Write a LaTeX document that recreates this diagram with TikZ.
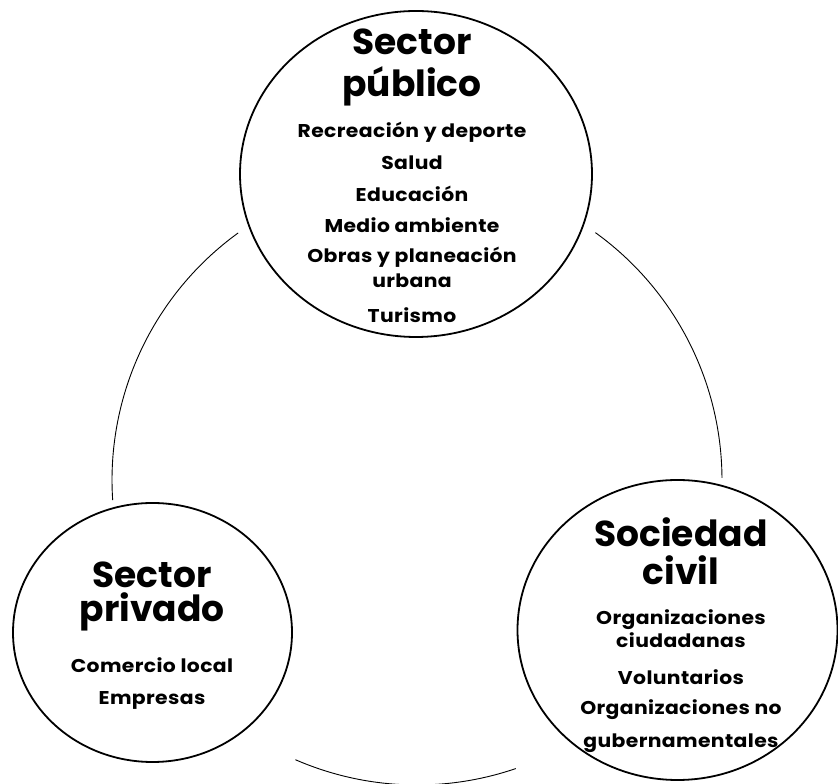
\documentclass[tikz,border=0pt]{standalone}
\usepackage{fontspec}
\setmainfont{Poppins}
\newfontfamily\itemfont{Poppins}[FakeStretch=1.1, LetterSpace=2]
\usetikzlibrary{shapes.geometric}
\tikzset{
  bubble/.style={draw, ellipse, line width=1.8pt, inner sep=0pt},
  ring/.style={line width=0.9pt},
  ttl/.style={anchor=base, font=\fontsize{36}{36}\selectfont\bfseries, inner sep=0pt},
  itm/.style={anchor=base, font=\itemfont\fontsize{18.5}{18.5}\selectfont\bfseries, inner sep=0pt}
}
\begin{document}
\begin{tikzpicture}[x=1pt,y=1pt]
\useasboundingbox (0,0) rectangle (838,784);
% big cycle arcs
\coordinate (bc) at (417,304);
\draw[ring] (bc) ++(125.9:305) arc[start angle=125.9, end angle=183.8, radius=305];
\draw[ring] (bc) ++(54.2:305) arc[start angle=54.2, end angle=0.4, radius=305];
\draw[ring] (bc) ++(246.5:305) arc[start angle=246.5, end angle=288.9, radius=305];
% bubbles
\node[bubble, fill=white, minimum width=352pt, minimum height=326pt] (pub) at (416,610) {};
\node[bubble, fill=white, minimum width=279pt, minimum height=259pt] (priv) at (152.5,151.5) {};
\node[bubble, fill=white, minimum width=320pt, minimum height=300pt] (civ) at (677.5,154) {};
% top texts
\node[ttl] (p1) at (412,729) {Sector};
\node[ttl] (p2) at (412,687) {público};
\node[itm] (p3) at (412,646) {Recreación y deporte};
\node[itm] (p4) at (412,614) {Salud};
\node[itm] (p5) at (412,582) {Educación};
\node[itm] (p6) at (412,551) {Medio ambiente};
\node[itm] (p7) at (412,521) {Obras y planeación};
\node[itm] (p8) at (412,496) {urbana};
\node[itm] (p9) at (412,461) {Turismo};
% left texts
\node[ttl] (s1) at (152,196) {Sector};
\node[ttl] (s2) at (152,162) {privado};
\node[itm] (s3) at (152,111) {Comercio local};
\node[itm] (s4) at (152,79) {Empresas};
% right texts
\node[ttl] (c1) at (681,237) {Sociedad};
\node[ttl] (c2) at (681,199) {civil};
\node[itm] (c3) at (681,159) {Organizaciones};
\node[itm] (c4) at (681,136) {ciudadanas};
\node[itm] (c5) at (681,99) {Voluntarios};
\node[itm] (c6) at (681,69) {Organizaciones no};
\node[itm] (c7) at (681,36) {gubernamentales};
\end{tikzpicture}
\end{document}
